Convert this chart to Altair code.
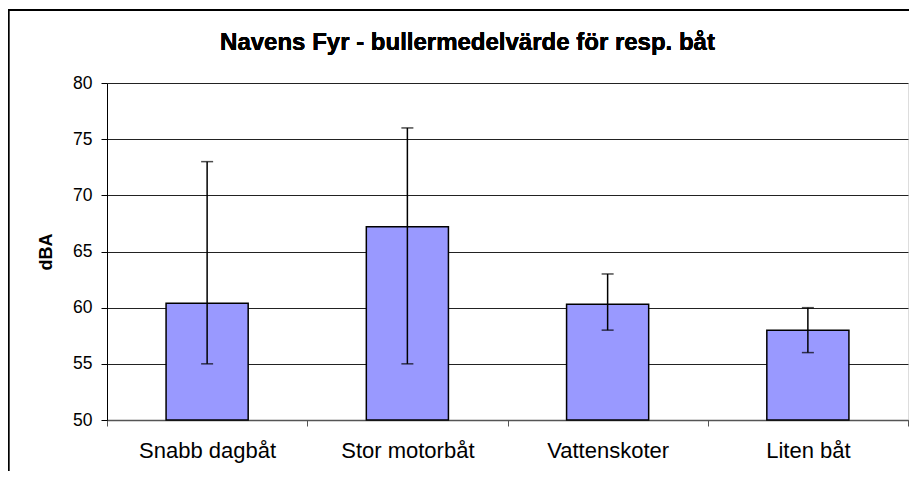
import altair as alt
import pandas as pd

categories = ["Snabb dagbåt", "Stor motorbåt", "Vattenskoter", "Liten båt"]
means = [60.4, 67.2, 60.3, 58.0]
err_low = [55.0, 55.0, 58.0, 56.0]
err_high = [73.0, 76.0, 63.0, 60.0]
y_ticks = [50, 55, 60, 65, 70, 75, 80]
title_text = "Navens Fyr - bullermedelvärde för resp. båt"

df = pd.DataFrame({"cat": categories, "mean": means, "lo": err_low, "hi": err_high})

FONT = "Liberation Sans"
W, H = 801, 337

x_enc = alt.X(
    "cat:N",
    sort=categories,
    scale=alt.Scale(paddingInner=0, paddingOuter=0),
    axis=alt.Axis(
        title=None,
        labelAngle=0,
        labelFont=FONT,
        labelFontSize=22,
        labelColor="black",
        labelPadding=14,
        tickBand="extent",
        tickSize=6,
        tickColor="#555555",
        domainColor="#555555",
        domainWidth=1.5,
        grid=False,
    ),
)
y_scale = alt.Scale(domain=[50, 80], nice=False, zero=False)

bars = alt.Chart(df).mark_bar(
    width={"band": 0.41}, color="#9999FF", stroke="black", strokeWidth=1.5
).encode(
    x=x_enc,
    y=alt.Y(
        "mean:Q",
        scale=y_scale,
        axis=alt.Axis(
            values=y_ticks,
            title="dBA",
            titleFont=FONT,
            titleFontSize=18,
            titleFontWeight="bold",
            titleColor="black",
            titleAngle=-90,
            titleBaseline="middle",
            titleX=-61,
            labelFont=FONT,
            labelFontSize=17.5,
            labelColor="black",
            labelPadding=9,
            tickSize=6,
            tickColor="black",
            domainColor="black",
            grid=True,
            gridColor="#222222",
            gridWidth=1,
        ),
    ),
    y2=alt.Y2(datum=50),
)

rules = alt.Chart(df).mark_rule(color="black", strokeWidth=1.5).encode(
    x=alt.X("cat:N", sort=categories),
    y=alt.Y("lo:Q", scale=y_scale),
    y2="hi:Q",
)
caps_hi = alt.Chart(df).mark_tick(color="black", size=12, thickness=1.5, orient="horizontal").encode(
    x=alt.X("cat:N", sort=categories),
    y=alt.Y("hi:Q", scale=y_scale),
)
caps_lo = alt.Chart(df).mark_tick(color="black", size=12, thickness=1.5, orient="horizontal").encode(
    x=alt.X("cat:N", sort=categories),
    y=alt.Y("lo:Q", scale=y_scale),
)

frame = alt.Chart(df).mark_rect(fill=None, stroke="black", strokeWidth=1.5).encode(
    x=alt.value(-98.5), x2=alt.value(W + 50), y=alt.value(-73), y2=alt.value(H + 100)
)

title = alt.Chart(df).mark_text(
    font=FONT, fontSize=24, fontWeight="bold", color="black",
    align="center", baseline="alphabetic",
).encode(
    text=alt.value(title_text), x=alt.value(W / 2 - 40), y=alt.value(-33)
)

chart = alt.layer(frame, bars, rules, caps_hi, caps_lo, title).properties(
    width=W,
    height=H,
    autosize=alt.AutoSizeParams(type="none"),
    padding={"left": 99, "top": 75, "right": 1, "bottom": 51},
).configure_view(stroke="#808080", strokeWidth=1.5).configure(background="white")

chart.save("out.html", embed_options={"renderer": "svg", "actions": False})
